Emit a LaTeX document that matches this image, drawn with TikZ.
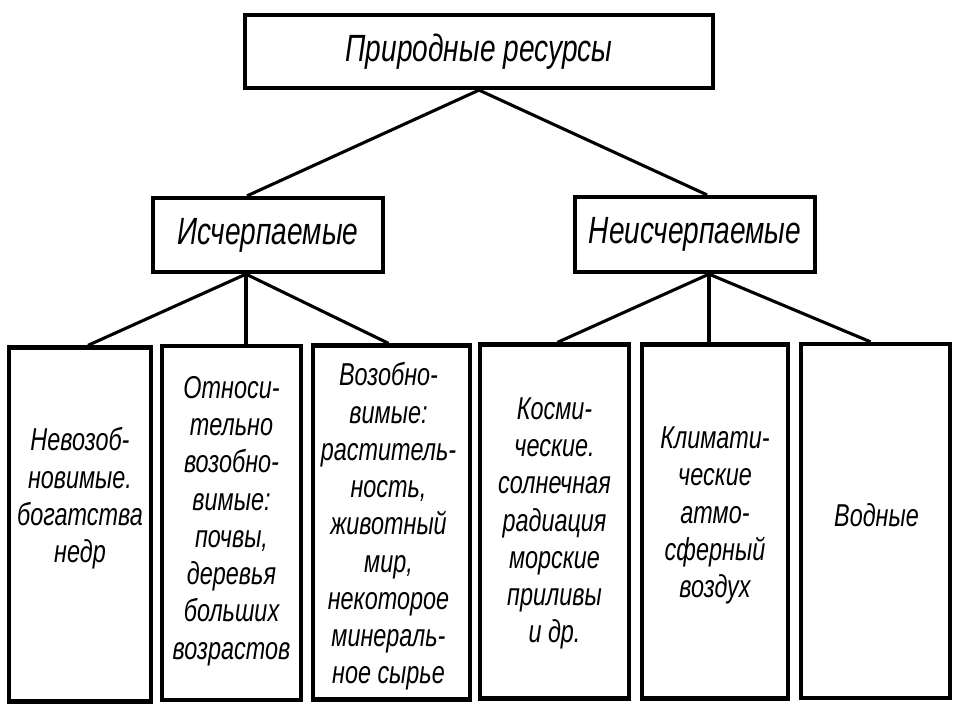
\documentclass[tikz,border=0pt]{standalone}
\usepackage{fontspec}
\newfontfamily\diafont{Liberation Sans}[FakeStretch=0.74]
\usetikzlibrary{positioning,calc}

\begin{document}
\begin{tikzpicture}[x=0.025cm,y=-0.025cm,
    box/.style={draw,line width=3pt,inner sep=0pt},
    head/.style={box,font=\diafont\itshape\fontsize{27}{30}\selectfont},
    col/.style={box,minimum height=8.85cm},
    txt/.style={align=center,inner sep=0pt,font=\diafont\itshape\fontsize{22.5}{26.5}\selectfont},
    link/.style={line width=2.2pt}
  ]
  \useasboundingbox (0,0) rectangle (960,720);
  % Top levels
  \node[head,minimum width=11.7cm,minimum height=1.825cm] (res) at (479,51.5) {Природные ресурсы};
  \node[head,minimum width=5.75cm,minimum height=1.85cm] (isch) at (268,235) {Исчерпаемые};
  \node[head,minimum width=6cm,minimum height=1.875cm] (neisch) at (695,234.5) {Неисчерпаемые};
  % Bottom boxes (explicit, one per column)
  \node[col,minimum width=3.55cm]  (b1) at (80,524.5)  {};
  \node[col,minimum width=3.475cm] (b2) at (231.5,523) {};
  \node[col,minimum width=3.925cm] (b3) at (391.5,522.5) {};
  \node[col,minimum width=3.725cm] (b4) at (554.5,521.5) {};
  \node[col,minimum width=3.65cm]  (b5) at (715,521.5) {};
  \node[col,minimum width=3.725cm] (b6) at (875.5,521) {};
  % Texts of the bottom boxes
  \node[txt] (t1) at ($(b1.center)+(0,-26)$) {Невозоб-\\новимые.\\богатства\\недр};
  \node[txt] (t2) at ($(b2.center)+(0,-2)$) {Относи-\\тельно\\возобно-\\вимые:\\почвы,\\деревья\\больших\\возрастов};
  \node[txt] (t3) at ($(b3.center)+(-3,4)$) {Возобно-\\вимые:\\раститель-\\ность,\\животный\\мир,\\некоторое\\минераль-\\ное сырье};
  \node[txt] (t4) at ($(b4.center)+(0,2)$) {Косми-\\ческие.\\солнечная\\радиация\\морские\\приливы\\и др.};
  \node[txt] (t5) at ($(b5.center)+(0,-6)$) {Климати-\\ческие\\атмо-\\сферный\\воздух};
  \node[txt] (t6) at ($(b6.center)+(1,-6)$) {Водные};
  % Connectors
  \draw[link] (res.south) -- ($(isch.north)+(-21,0)$);
  \draw[link] (res.south) -- ($(neisch.north)+(12,0)$);
  \coordinate (isch-s) at ($(isch.south)+(-22,0)$);
  \draw[link] (isch-s) -- ($(b1.north)+(8,0)$);
  \draw[link] (isch-s) -- (isch-s |- b2.north);
  \draw[link] (isch-s) -- ($(b3.north)+(-3,0)$);
  \coordinate (neisch-s) at ($(neisch.south)+(14,0)$);
  \draw[link] (neisch-s) -- ($(b4.north)+(3,0)$);
  \draw[link] (neisch-s) -- (neisch-s |- b5.north);
  \draw[link] (neisch-s) -- ($(b6.north)+(-5,0)$);
\end{tikzpicture}
\end{document}
